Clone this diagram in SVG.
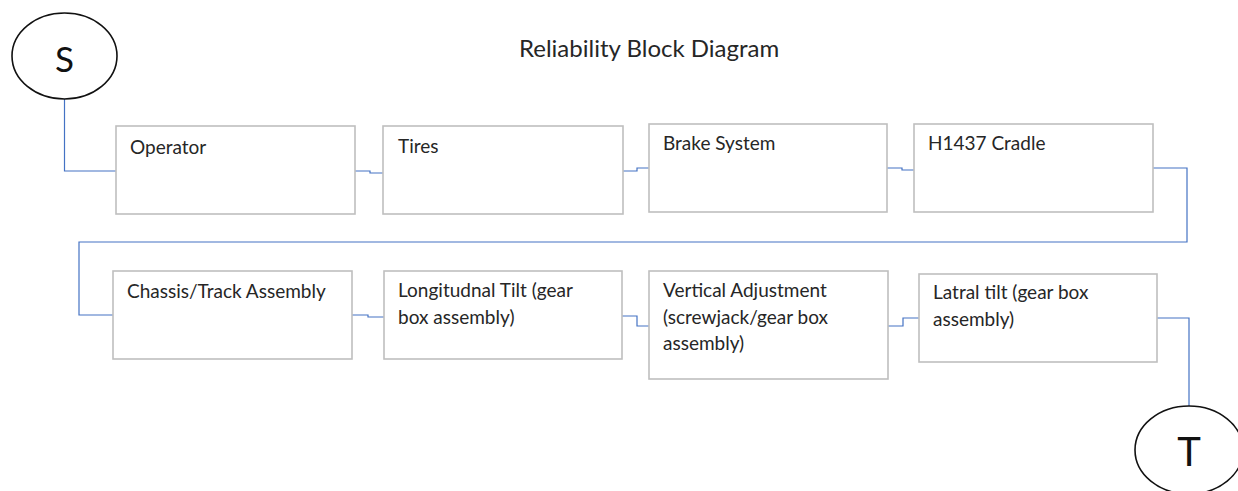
<svg xmlns="http://www.w3.org/2000/svg" width="1238" height="491" viewBox="0 0 1238 491">
  <style>
    .box { fill: #ffffff; stroke: #bfbfbf; stroke-width: 1.6; }
    .term { fill: #ffffff; stroke: #111111; stroke-width: 1.6; }
    .lbl { font-family: Lato, "Liberation Sans", sans-serif; font-size: 19px; fill: #262626; }
    .title { font-family: Lato, "Liberation Sans", sans-serif; font-size: 24px; fill: #262626; }
    .big { font-family: Lato, "Liberation Sans", sans-serif; fill: #111111; text-anchor: middle; }
    .wire { fill: none; stroke: #4472c4; stroke-width: 1.2; }
  </style>
  <rect width="1238" height="491" fill="#ffffff"/>

  <text class="title" x="519" y="57">Reliability Block Diagram</text>

  <!-- series links -->
  <g id="connectors">
    <path class="wire" d="M64.5,99 V171 H116"/>
    <path class="wire" d="M355,171 H370 V173 H383"/>
    <path class="wire" d="M623,171 H637 V168 H649"/>
    <path class="wire" d="M887,168 H902 V170 H914"/>
    <path class="wire" d="M1153,168 H1187 V242 H79 V315 H113"/>
    <path class="wire" d="M352,315 H368 V317 H384"/>
    <path class="wire" d="M622,316 H637 V326 H649"/>
    <path class="wire" d="M888,326 H903 V318 H919"/>
    <path class="wire" d="M1157,318 H1189 V406"/>
  </g>

  <g id="start">
    <ellipse class="term" cx="64.5" cy="56" rx="52.5" ry="43"/>
    <text class="big" x="64.5" y="72" font-size="35">S</text>
  </g>

  <g id="operator">
    <rect class="box" x="116" y="126" width="239" height="88"/>
    <text class="lbl" x="130" y="154">Operator</text>
  </g>
  <g id="tires">
    <rect class="box" x="383" y="126" width="240" height="88"/>
    <text class="lbl" x="398" y="153">Tires</text>
  </g>
  <g id="brake-system">
    <rect class="box" x="649" y="124" width="238" height="88"/>
    <text class="lbl" x="663" y="150">Brake System</text>
  </g>
  <g id="h1437-cradle">
    <rect class="box" x="914" y="124" width="239" height="88"/>
    <text class="lbl" x="928" y="150">H1437 Cradle</text>
  </g>
  <g id="chassis-track">
    <rect class="box" x="113" y="271" width="239" height="88"/>
    <text class="lbl" x="127" y="298">Chassis/Track Assembly</text>
  </g>
  <g id="longitudinal-tilt">
    <rect class="box" x="384" y="271" width="238" height="88"/>
    <text class="lbl" x="398" y="297">Longitudnal Tilt (gear</text>
    <text class="lbl" x="398" y="323.5">box assembly)</text>
  </g>
  <g id="vertical-adjustment">
    <rect class="box" x="649" y="271" width="239" height="108"/>
    <text class="lbl" x="663" y="297">Vertical Adjustment</text>
    <text class="lbl" x="663" y="323.5">(screwjack/gear box</text>
    <text class="lbl" x="663" y="350">assembly)</text>
  </g>
  <g id="lateral-tilt">
    <rect class="box" x="919" y="274" width="238" height="88"/>
    <text class="lbl" x="933" y="299">Latral tilt (gear box</text>
    <text class="lbl" x="933" y="325.5">assembly)</text>
  </g>

  <g id="end">
    <ellipse class="term" cx="1189" cy="450" rx="54" ry="44"/>
    <text class="big" x="1189" y="466" font-size="40">T</text>
  </g>
</svg>
